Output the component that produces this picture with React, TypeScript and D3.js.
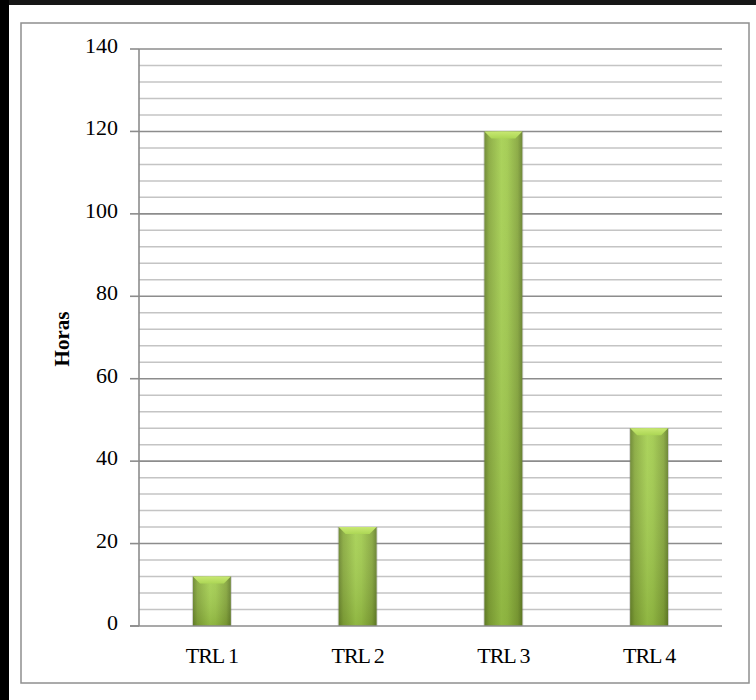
import React from "react";
import * as d3 from "d3";

const categories = ["TRL 1", "TRL 2", "TRL 3", "TRL 4"];
const hours = [12, 24, 120, 48];
const majorTicks = [0, 20, 40, 60, 80, 100, 120, 140];
const minorStep = 4;
const yTitle = "Horas";

const W = 756;
const H = 700;
const plot = { left: 139, right: 722, top: 49, bottom: 626 };

export default function App() {
  const x = d3
    .scaleBand<string>()
    .domain(categories)
    .range([plot.left, plot.right])
    .paddingInner(0.74)
    .paddingOuter(0.37);
  const y = d3.scaleLinear().domain([0, 140]).range([plot.bottom, plot.top]);
  const minorTicks = d3.range(0, 140 + 0.001, minorStep).filter((v) => v % 20 !== 0);
  const bw = x.bandwidth();
  const serif = "'Liberation Serif', 'Times New Roman', serif";

  return (
    <svg
      width={W}
      height={H}
      style={{ position: "absolute", left: 0, top: 0, display: "block" }}
    >
      <defs>
        <linearGradient id="barH" x1="0" x2="1" y1="0" y2="0">
          <stop offset="0" stopColor="#67832a" />
          <stop offset="0.12" stopColor="#86a83a" />
          <stop offset="0.45" stopColor="#a4cf4e" />
          <stop offset="0.6" stopColor="#9fc94a" />
          <stop offset="0.88" stopColor="#84a539" />
          <stop offset="1" stopColor="#637e28" />
        </linearGradient>
        <linearGradient id="barV" x1="0" x2="0" y1="0" y2="1">
          <stop offset="0" stopColor="#ffffff" stopOpacity="0.08" />
          <stop offset="1" stopColor="#3b5010" stopOpacity="0.2" />
        </linearGradient>
        <linearGradient id="bevel" x1="0" x2="0" y1="0" y2="1">
          <stop offset="0" stopColor="#c8e872" />
          <stop offset="1" stopColor="#acd655" />
        </linearGradient>
      </defs>

      {/* page background */}
      <rect x={0} y={0} width={W} height={H} fill="#161616" />
      <rect x={0} y={0} width={9} height={H} fill="#000" />
      <rect x={9} y={5} width={W - 9} height={H - 5} fill="#fff" />

      {/* chart frame */}
      <rect x={21} y={23} width={728} height={660} fill="#fff" stroke="#8f8f8f" strokeWidth={1.5} />

      {/* minor gridlines */}
      {minorTicks.map((v) => (
        <line
          key={"m" + v}
          x1={plot.left}
          x2={plot.right}
          y1={y(v)}
          y2={y(v)}
          stroke="#c4c4c4"
          strokeWidth={1.5}
        />
      ))}
      {/* major gridlines */}
      {majorTicks.filter((v) => v > 0).map((v) => (
        <line
          key={"M" + v}
          x1={plot.left}
          x2={plot.right}
          y1={y(v)}
          y2={y(v)}
          stroke="#8c8c8c"
          strokeWidth={1.6}
        />
      ))}

      {/* bars */}
      {categories.map((c, i) => {
        const x0 = x(c)!;
        const yt = y(hours[i]);
        const h = y(0) - yt;
        const b = Math.min(7, h / 3);
        return (
          <g key={c}>
            <rect x={x0 - 1} y={yt} width={bw + 2} height={h} fill="#7b7b7b" opacity={0.3} />
            <rect x={x0} y={yt} width={bw} height={h} fill="url(#barH)" />
            <rect x={x0} y={yt} width={bw} height={h} fill="url(#barV)" />
            <path
              d={`M${x0},${yt} L${x0 + bw},${yt} L${x0 + bw - b},${yt + b} L${x0 + b},${yt + b} Z`}
              fill="url(#bevel)"
            />
          </g>
        );
      })}

      {/* axes */}
      <line x1={plot.left} x2={plot.left} y1={plot.top} y2={plot.bottom} stroke="#8c8c8c" strokeWidth={1.6} />
      <line x1={130} x2={plot.right} y1={plot.bottom} y2={plot.bottom} stroke="#8c8c8c" strokeWidth={1.6} />
      {majorTicks.map((v) => (
        <g key={"t" + v}>
          <line x1={130} x2={plot.left} y1={y(v)} y2={y(v)} stroke="#8c8c8c" strokeWidth={1.6} />
          <text
            x={118}
            y={y(v) - 1}
            textAnchor="end"
            dominantBaseline="middle"
            fontFamily={serif}
            fontSize={22}
            fill="#000"
          >
            {v}
          </text>
        </g>
      ))}

      {/* category labels */}
      {categories.map((c) => (
        <text
          key={"l" + c}
          x={x(c)! + bw / 2}
          y={663}
          textAnchor="middle"
          fontFamily={serif}
          fontSize={22}
          letterSpacing={-1}
          fill="#000"
        >
          {c}
        </text>
      ))}

      {/* y axis title */}
      <text
        transform={`translate(69, 339) rotate(-90)`}
        textAnchor="middle"
        fontFamily={serif}
        fontWeight="bold"
        fontSize={21}
        fill="#000"
      >
        {yTitle}
      </text>
    </svg>
  );
}
